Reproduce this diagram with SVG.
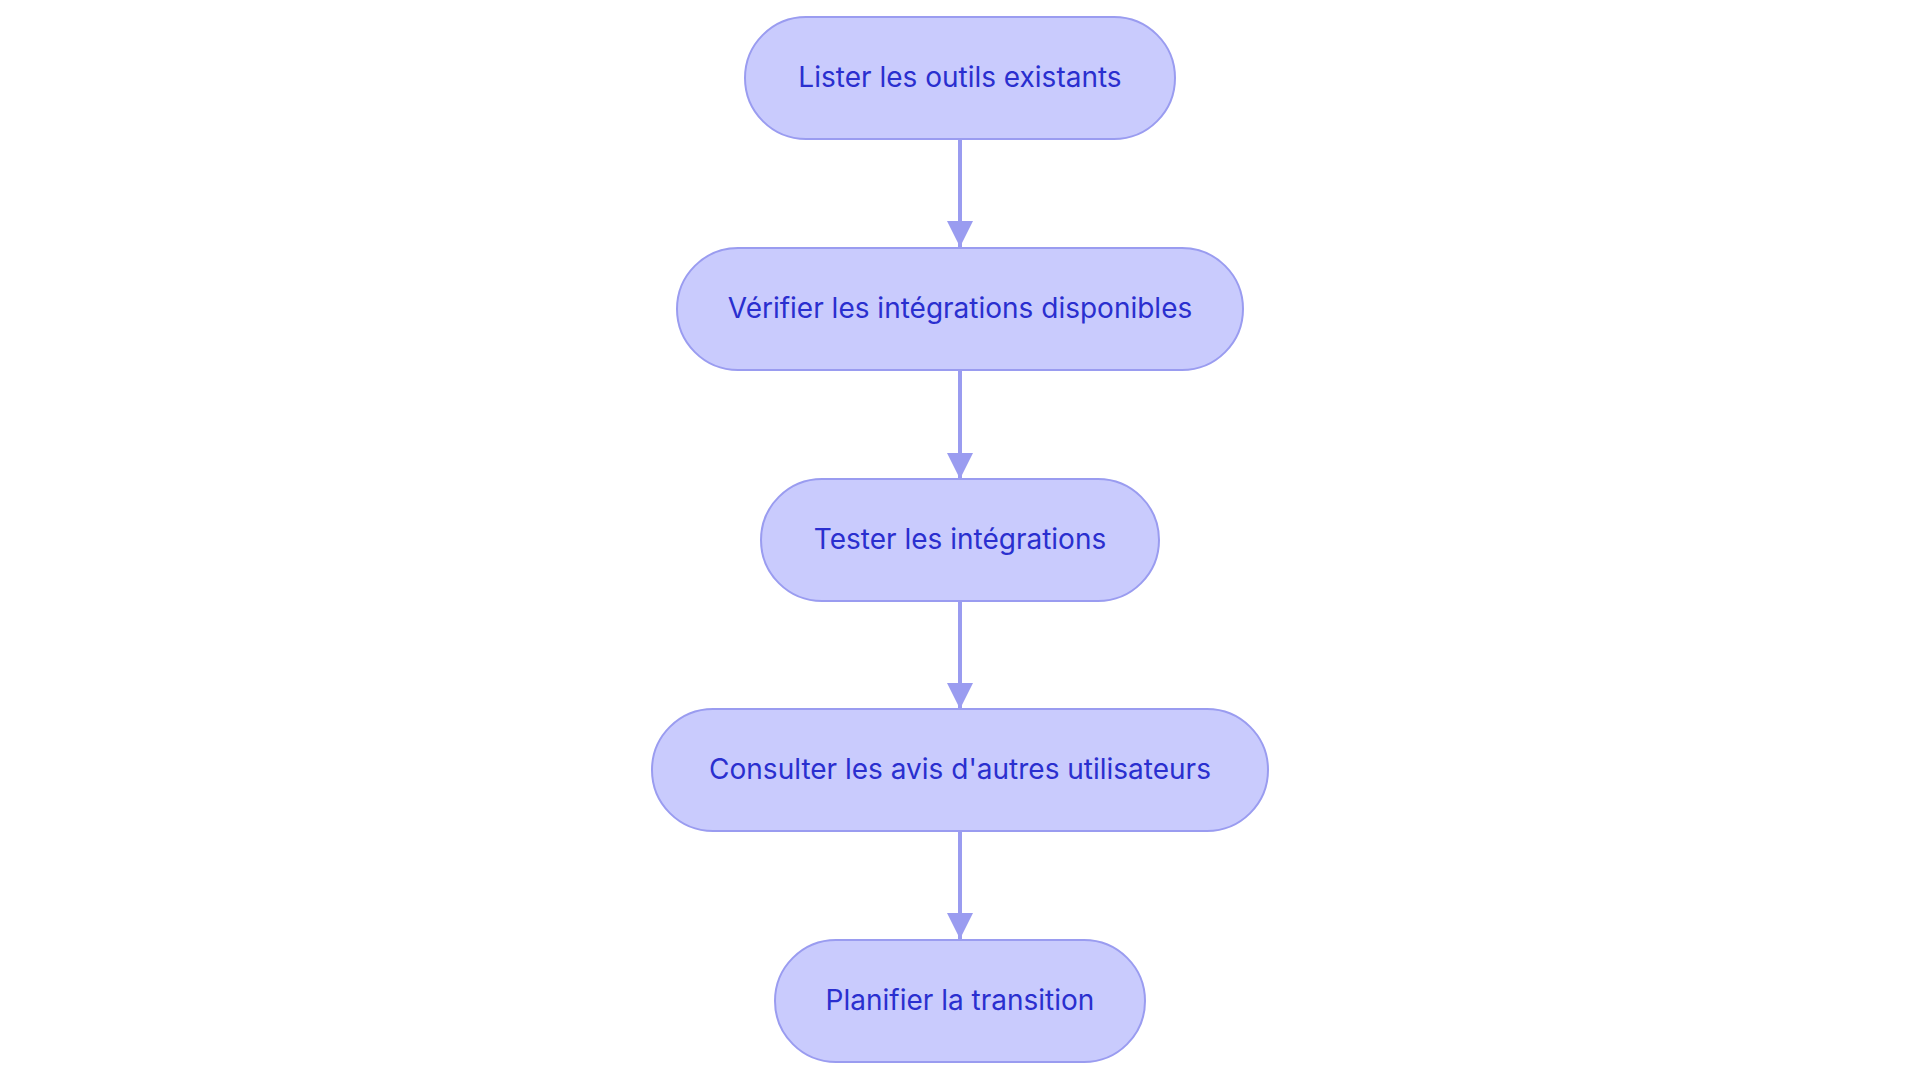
<svg xmlns="http://www.w3.org/2000/svg" width="1920" height="1083" viewBox="0 0 1920 1083">
<style>
.n{fill:#c9cbfd;stroke:#9a9cf0;stroke-width:2}
.t{font-family:Inter,"Noto Sans",sans-serif;font-size:28px;fill:#2a2fcf;text-anchor:middle;dominant-baseline:central}
.e{stroke:#9a9cf0;stroke-width:4;fill:none}
</style>
<defs><marker id="a" viewBox="0 0 10 10" refX="10" refY="5" markerWidth="6.5" markerHeight="6.5" markerUnits="strokeWidth" orient="auto"><path d="M0,0L10,5L0,10z" fill="#9a9cf0"/></marker></defs>
<rect width="1920" height="1083" fill="#fff"/>
<g id="edges">
<path class="e" d="M960,139V247" marker-end="url(#a)"/>
<path class="e" d="M960,370V479" marker-end="url(#a)"/>
<path class="e" d="M960,600V709" marker-end="url(#a)"/>
<path class="e" d="M960,831V939" marker-end="url(#a)"/>
</g>
<g id="n1"><rect class="n" x="745" y="17" width="430" height="122" rx="61"/><text class="t" x="960" y="77">Lister les outils existants</text></g>
<g id="n2"><rect class="n" x="677" y="248" width="566" height="122" rx="61"/><text class="t" x="960" y="308">Vérifier les intégrations disponibles</text></g>
<g id="n3"><rect class="n" x="761" y="479" width="398" height="122" rx="61"/><text class="t" x="960" y="539">Tester les intégrations</text></g>
<g id="n4"><rect class="n" x="652" y="709" width="616" height="122" rx="61"/><text class="t" x="960" y="769">Consulter les avis d'autres utilisateurs</text></g>
<g id="n5"><rect class="n" x="775" y="940" width="370" height="122" rx="61"/><text class="t" x="960" y="1000">Planifier la transition</text></g>
</svg>
